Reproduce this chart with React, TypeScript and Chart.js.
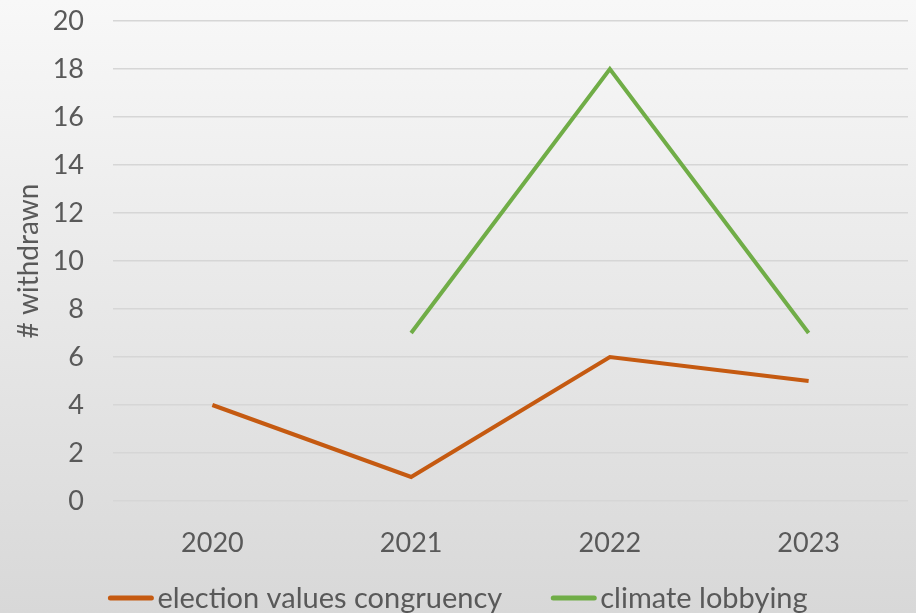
import React, { useEffect, useRef } from "react";
import { Chart, registerables } from "chart.js";

Chart.register(...registerables);

const categories = ["2020", "2021", "2022", "2023"];
const electionValues = [4, 1, 6, 5];
const climateValues = [null, 7, 18, 7];
const seriesNames = ["election values congruency", "climate lobbying"];
const yTitle = "# withdrawn";

const FONT = "Lato, 'Open Sans', sans-serif";
const TEXT = "#595959";

const bottomLegend = {
  id: "bottomLegend",
  afterDraw(chart: any) {
    const ctx = chart.ctx;
    const size = 29;
    const lineW = 45;
    const gap = 4;
    const itemGap = 49;
    const y = 598;
    ctx.save();
    ctx.font = `${size}px ${FONT}`;
    const items = chart.data.datasets.map((d: any) => ({
      text: d.label as string,
      color: d.borderColor as string,
      w: ctx.measureText(d.label).width,
    }));
    const total =
      items.reduce((a: number, it: any) => a + lineW + gap + it.w, 0) +
      itemGap * (items.length - 1);
    let x = (chart.width - total) / 2;
    ctx.textBaseline = "middle";
    ctx.textAlign = "left";
    for (const it of items) {
      ctx.strokeStyle = it.color;
      ctx.lineWidth = 5;
      ctx.lineCap = "round";
      ctx.beginPath();
      ctx.moveTo(x + 2, y);
      ctx.lineTo(x + lineW - 2, y);
      ctx.stroke();
      x += lineW + gap;
      ctx.fillStyle = TEXT;
      ctx.fillText(it.text, x, y + 1);
      x += it.w + itemGap;
    }
    ctx.restore();
  },
};

export default function App() {
  const ref = useRef<HTMLCanvasElement>(null);
  useEffect(() => {
    const chart = new Chart(ref.current!, {
      type: "line",
      data: {
        labels: categories,
        datasets: [
          {
            label: seriesNames[0],
            data: electionValues,
            borderColor: "#C55A11",
            backgroundColor: "#C55A11",
            borderWidth: 4,
            pointRadius: 0,
            tension: 0,
          },
          {
            label: seriesNames[1],
            data: climateValues as any,
            borderColor: "#70AD47",
            backgroundColor: "#70AD47",
            borderWidth: 4,
            pointRadius: 0,
            tension: 0,
            spanGaps: false,
          },
        ],
      },
      options: {
        animation: false,
        responsive: false,
        layout: { padding: { top: 21, right: 8, left: 0, bottom: 40 } },
        plugins: {
          tooltip: { enabled: false },
          legend: { display: false },
        },
        scales: {
          x: {
            offset: true,
            grid: { display: false, drawTicks: false },
            border: { display: false },
            ticks: {
              font: { family: FONT, size: 27 },
              color: TEXT,
              padding: 26,
              maxRotation: 0,
            },
            afterFit: (s: any) => {
              s.height = 72;
              s.paddingTop = 0;
              s.paddingBottom = 0;
            },
          },
          y: {
            min: 0,
            max: 20,
            ticks: {
              stepSize: 2,
              font: { family: FONT, size: 27 },
              color: TEXT,
              padding: 29,
            },
            grid: { color: "#d6d6d6", lineWidth: 1.5, drawTicks: false },
            border: { display: false },
            title: {
              display: true,
              text: yTitle,
              font: { family: FONT, size: 28 },
              color: TEXT,
              padding: { top: 12, bottom: 0 },
            },
            afterFit: (s: any) => {
              s.width = 113;
              s.paddingTop = 0;
              s.paddingBottom = 0;
            },
          },
        },
      },
      plugins: [bottomLegend],
    });
    return () => chart.destroy();
  }, []);
  return (
    <div
      style={{
        position: "absolute",
        left: 0,
        top: 0,
        width: 916,
        height: 613,
        background: "linear-gradient(#f8f8f8, #d8d8d8)",
      }}
    >
      <canvas ref={ref} width={916} height={613} />
    </div>
  );
}
